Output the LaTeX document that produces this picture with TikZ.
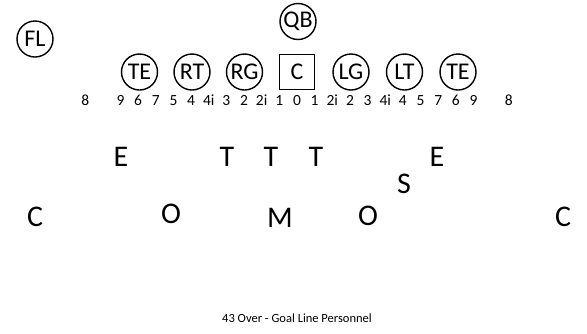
\documentclass[tikz,border=0pt]{standalone}
\usepackage{fontspec}
\setmainfont{Carlito}
\begin{document}
\begin{tikzpicture}[x=1pt,y=-1pt,
  player/.style={draw,circle,line width=1.4pt,minimum size=36pt,inner sep=0pt,font=\fontsize{24}{24}\selectfont},
  cbox/.style={draw,rectangle,line width=1.9pt,minimum size=35pt,inner sep=0pt,font=\fontsize{24}{24}\selectfont},
  gapnum/.style={inner sep=0pt,anchor=base,font=\fontsize{15.5}{15.5}\selectfont},
  defpos/.style={inner sep=0pt,anchor=base,font=\fontsize{30}{30}\selectfont},
  titletext/.style={inner sep=0pt,font=\fontsize{12.5}{12.5}\selectfont}]
\useasboundingbox (0,0) rectangle (587,333);
% offense
\node[player] (fl) at (35,39) {FL};
\node[player] (qb) at (298,21.5) {QB};
\node[player] (tel) at (139.5,72) {TE};
\node[player] (rt) at (192,72) {RT};
\node[player] (rg) at (244.5,72) {RG};
\node[cbox] (c) at (297,72) {C};
\node[player] (lg) at (351,72) {LG};
\node[player] (lt) at (404.5,72) {LT};
\node[player] (ter) at (458,72) {TE};
% gap numbers
\foreach \t/\k [count=\i] in {8/-12,9/-10,6/-9,7/-8,5/-7,4/-6,4i/-5,3/-4,2/-3,2i/-2,1/-1,0/0,1/1,2i/2,2/3,3/4,4i/5,4/6,5/7,7/8,6/9,9/10,8/12}
  \node[gapnum] (g\i) at (297+17.65*\k,105.5) {\t};
% defense
\node[defpos] (e1) at (121,166.5) {E};
\node[defpos] (t1) at (227,166.5) {T};
\node[defpos] (t2) at (271,166.5) {T};
\node[defpos] (t3) at (316,166.5) {T};
\node[defpos] (e2) at (437,166.5) {E};
\node[defpos] (s) at (404,193) {S};
\node[defpos] (c1) at (35,226.5) {C};
\node[defpos] (o1) at (171,223.5) {O};
\node[defpos] (m) at (280,227) {M};
\node[defpos] (o2) at (368,225.5) {O};
\node[defpos] (c2) at (563,226.5) {C};
\node[titletext] (title) at (297,318) {43 Over - Goal Line Personnel};
\end{tikzpicture}
\end{document}
